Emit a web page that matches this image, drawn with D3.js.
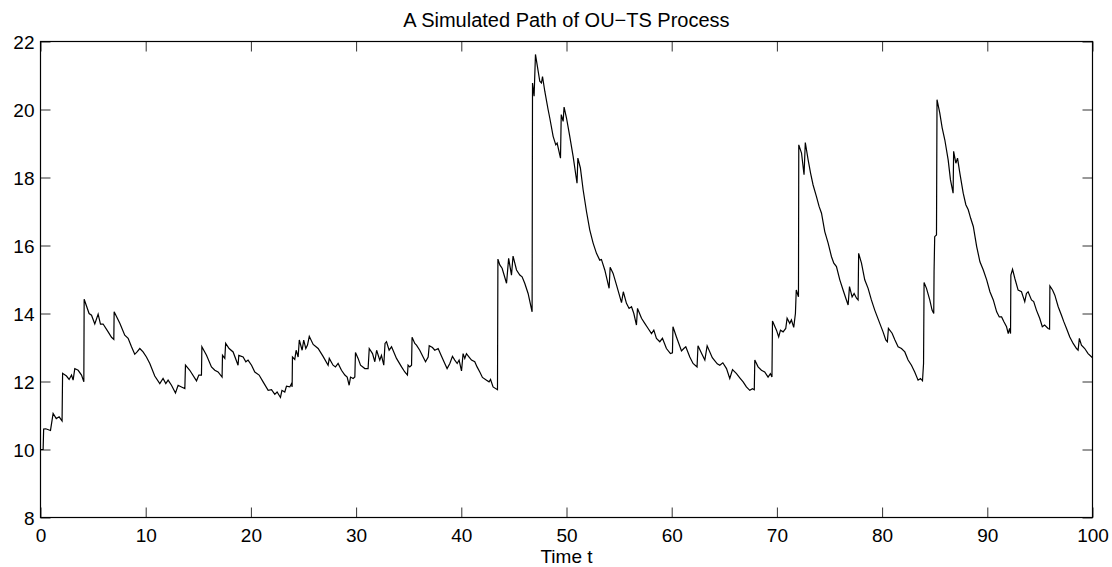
<!DOCTYPE html>
<html>
<head>
<meta charset="utf-8">
<script src="https://cdn.jsdelivr.net/npm/d3@7"></script>
<style>
  body { margin: 0; background: #fff; }
  text { font-family: "Liberation Sans", Arial, sans-serif; fill: #000; }
</style>
</head>
<body>
<svg id="chart" width="1112" height="567"></svg>
<script>
// time grid of the simulated path (jumps show up as two close points)
var timeT = [0,0.25,0.3,0.5,0.95,1.2,1.5,1.77,2.05,2.1,2.47,2.72,2.95,3.1,3.26,3.58,3.9,4.12,4.15,4.62,4.85,5.16,5.48,5.7,5.95,6.43,6.75,6.97,7.0,7.54,8.01,8.33,8.65,8.96,9.18,9.44,9.75,
  10.07,10.39,10.86,11.34,11.65,11.91,12.13,12.45,12.83,13.08,13.4,13.72,13.78,14.19,14.83,15.05,15.3,15.34,15.78,16.25,16.57,16.88,17.26,17.3,17.52,17.6,17.93,18.31,18.78,18.85,19.26,19.52,19.73,
  20.06,20.37,20.78,21.16,21.64,21.96,22.27,22.49,22.81,22.95,23.22,23.38,23.7,23.86,23.92,23.95,24.17,24.3,24.49,24.6,24.87,25.02,25.22,25.38,25.55,25.92,26.39,26.86,27.34,27.45,27.81,28.04,28.29,28.61,28.93,29.15,29.34,29.47,29.72,29.88,29.94,
  30.19,30.42,30.83,31.14,31.25,31.56,31.78,31.95,32.25,32.41,32.63,32.75,32.89,33.14,33.37,33.84,34.32,34.63,34.88,34.94,35.1,35.27,35.32,35.58,35.74,36.05,36.37,36.6,36.85,36.95,37.26,37.48,37.8,38.12,38.43,38.65,38.91,39.16,39.38,39.61,39.79,
  40.02,40.17,40.33,40.49,40.74,40.97,41.28,41.5,41.76,42.01,42.4,42.64,42.78,43.02,43.44,43.48,43.66,43.88,44.3,44.5,44.77,44.92,45.25,45.56,45.78,46.03,46.35,46.73,46.77,46.92,47.05,47.46,47.62,47.72,47.94,48.25,48.41,48.73,48.98,49.11,49.43,49.5,49.68,49.77,
  50.0,50.31,50.63,51.0,51.08,51.32,51.58,51.9,52.21,52.53,52.85,53.16,53.32,53.64,54.05,54.15,54.43,54.75,55.23,55.4,55.7,55.95,56.18,56.4,56.65,56.75,57.13,57.44,57.76,58.08,58.3,58.55,58.87,59.12,59.5,59.88,
  60.07,60.12,60.45,60.93,61.15,61.34,61.72,62.03,62.41,62.5,62.88,63.15,63.37,63.86,64.33,64.57,64.86,65.21,65.52,65.78,66.16,66.47,66.79,67.1,67.42,67.68,67.85,67.9,68.21,68.53,68.84,69.16,69.38,69.53,69.58,69.96,
  70.17,70.34,70.59,70.84,70.97,71.22,71.38,71.6,71.76,71.84,72.05,72.08,72.34,72.58,72.7,72.97,73.2,73.44,73.76,74.01,74.24,74.55,74.87,75.19,75.41,75.66,75.98,76.29,76.55,76.77,76.9,77.15,77.34,77.57,77.72,77.77,78.04,78.35,78.67,78.98,79.3,79.78,
  80.09,80.35,80.5,80.6,80.95,81.22,81.52,81.84,82.16,82.47,82.79,83.1,83.42,83.65,83.84,83.94,83.99,84.22,84.53,84.75,84.91,84.94,85.0,85.17,85.22,85.48,85.71,85.96,86.28,86.5,86.75,86.8,87.01,87.17,87.39,87.71,87.96,88.19,88.42,88.67,88.99,89.3,89.62,89.94,
  90.25,90.57,90.89,91.14,91.36,91.58,91.83,91.99,92.12,92.21,92.24,92.4,92.62,92.93,93.25,93.41,93.56,93.72,93.88,94.2,94.41,94.67,94.98,95.23,95.45,95.78,95.92,95.95,96.2,96.42,96.74,97.05,97.27,97.53,97.84,98.16,98.48,98.63,98.75,98.95,99.26,99.58,100];

// OU-TS path values
var pathX = [10.0,10.0,10.6,10.61,10.56,11.06,10.91,10.96,10.84,12.24,12.16,12.06,12.19,12.04,12.38,12.33,12.19,11.99,14.42,14.0,13.95,13.69,13.98,13.69,13.69,13.46,13.30,13.24,14.05,13.71,13.36,13.27,13.02,12.80,12.87,12.97,12.87,
  12.72,12.53,12.16,11.94,12.09,11.94,12.04,11.89,11.66,11.89,11.84,11.79,12.48,12.33,12.02,12.19,12.19,13.02,12.77,12.43,12.33,12.28,12.13,12.77,12.68,13.12,12.97,12.87,12.48,12.77,12.72,12.58,12.63,
  12.48,12.28,12.19,11.99,11.74,11.76,11.62,11.69,11.53,11.74,11.69,11.86,11.84,11.94,11.84,12.72,12.65,12.92,12.72,13.22,12.92,13.22,12.97,13.07,13.33,13.09,12.97,12.74,12.48,12.68,12.48,12.43,12.53,12.33,12.19,12.13,11.89,12.13,12.09,12.13,12.85,
  12.68,12.48,12.38,12.38,12.97,12.82,12.58,12.92,12.63,12.77,12.48,13.12,13.17,12.92,13.02,12.68,12.43,12.28,12.19,12.48,12.43,12.48,13.30,13.12,13.07,12.92,12.72,12.58,12.72,13.05,13.0,12.92,12.97,12.74,12.53,12.38,12.53,12.74,12.63,12.53,12.63,
  12.31,12.82,12.68,12.82,12.72,12.63,12.58,12.43,12.28,12.12,12.04,11.99,12.06,11.84,11.76,15.6,15.43,15.33,14.89,15.62,15.13,15.69,15.28,15.13,15.08,14.89,14.59,14.05,20.78,20.39,21.62,20.83,20.78,20.97,20.53,20.0,19.75,19.21,18.96,19.01,18.57,19.85,19.65,20.07,
  19.75,19.21,18.62,17.83,18.57,18.28,17.64,17.0,16.46,16.07,15.77,15.57,15.59,15.28,14.74,15.36,15.18,14.84,14.32,14.64,14.3,14.15,14.2,14.0,13.66,14.15,13.86,13.71,13.56,13.41,13.51,13.27,13.17,13.27,12.97,12.82,
  12.84,13.61,13.31,12.90,12.97,13.02,12.72,12.53,12.43,13.05,12.80,12.63,13.05,12.70,12.52,12.48,12.55,12.38,12.09,12.35,12.23,12.11,11.99,11.84,11.74,11.79,11.76,12.63,12.43,12.33,12.28,12.13,12.23,12.13,13.78,13.51,
  13.31,13.51,13.46,13.56,13.86,13.71,13.81,13.59,14.0,14.69,14.49,18.96,18.72,18.08,19.03,18.52,18.13,17.78,17.44,17.15,16.95,16.41,16.07,15.67,15.48,15.38,14.99,14.69,14.45,14.25,14.79,14.49,14.59,14.45,14.40,15.77,15.48,14.99,14.74,14.40,14.10,13.71,
  13.46,13.22,13.17,13.56,13.42,13.22,13.02,12.97,12.87,12.63,12.48,12.28,12.04,12.09,12.02,12.53,14.91,14.74,14.40,14.10,14.0,15.23,16.26,16.31,20.29,19.90,19.46,19.11,18.52,17.93,17.54,18.77,18.42,18.57,18.13,17.54,17.20,17.05,16.80,16.56,15.97,15.52,15.28,14.99,
  14.64,14.40,14.05,13.90,13.90,13.76,13.61,13.41,13.56,13.41,15.13,15.30,15.03,14.69,14.64,14.49,14.35,14.59,14.64,14.40,14.35,14.10,13.86,13.61,13.66,13.56,13.54,14.81,14.69,14.54,14.20,13.95,13.76,13.56,13.31,13.12,12.97,12.92,13.27,13.07,12.97,12.82,12.70];

var xTicks = [0,10,20,30,40,50,60,70,80,90,100];
var yTicks = [8,10,12,14,16,18,20,22];

var titleText = "A Simulated Path of OU\u2212TS Process";
var xLabelText = "Time t";

function drawChart() {
  var svg = d3.select("#chart"),
      axL = 40.5, axR = 1092.5, axT = 41.5, axB = 517.5;

  var x = d3.scaleLinear().domain([0, 100]).range([axL, axR]);
  var y = d3.scaleLinear().domain([8, 22]).range([axB, axT]);

  var tickLen = 10;

  // ticks point inward like matlab, on all four sides
  var gx = svg.append("g").attr("transform", "translate(0," + axB + ")")
    .call(d3.axisBottom(x).tickValues(xTicks).tickSizeInner(-tickLen).tickSizeOuter(0).tickPadding(0));
  var gxTop = svg.append("g").attr("transform", "translate(0," + axT + ")")
    .call(d3.axisTop(x).tickValues(xTicks).tickSizeInner(-tickLen).tickSizeOuter(0).tickFormat(""));
  var gy = svg.append("g").attr("transform", "translate(" + axL + ",0)")
    .call(d3.axisLeft(y).tickValues(yTicks).tickSizeInner(-tickLen).tickSizeOuter(0).tickPadding(0));
  var gyRight = svg.append("g").attr("transform", "translate(" + axR + ",0)")
    .call(d3.axisRight(y).tickValues(yTicks).tickSizeInner(-tickLen).tickSizeOuter(0).tickFormat(""));

  [gx, gxTop, gy, gyRight].forEach(function(g) {
    g.select(".domain").remove();
    g.selectAll(".tick line").attr("stroke", "#333").attr("stroke-width", 1);
    g.selectAll(".tick text")
      .style("font-family", "'Liberation Sans', Arial, sans-serif")
      .style("font-size", "19px")
      .attr("fill", "#000");
  });
  gx.selectAll(".tick text").attr("y", 18).attr("dy", "0.35em");
  gy.selectAll(".tick text").attr("x", -6).attr("dy", "0.35em");

  var line = d3.line()
    .x(function(d, i) { return x(timeT[i]); })
    .y(function(d) { return y(d); });

  svg.append("path")
    .datum(pathX)
    .attr("d", line)
    .attr("fill", "none")
    .attr("stroke", "#000")
    .attr("stroke-width", 1.2);

  // box
  svg.append("rect")
    .attr("x", axL).attr("y", axT)
    .attr("width", axR - axL).attr("height", axB - axT)
    .attr("fill", "none").attr("stroke", "#000").attr("stroke-width", 1.2);

  svg.append("text")
    .attr("x", (axL + axR) / 2).attr("y", 20)
    .attr("text-anchor", "middle").attr("dy", "0.35em")
    .style("font-size", "20px")
    .text(titleText);

  svg.append("text")
    .attr("x", (axL + axR) / 2).attr("y", 556)
    .attr("text-anchor", "middle").attr("dy", "0.35em")
    .style("font-size", "19px")
    .text(xLabelText);
}

drawChart();
</script>
</body>
</html>
